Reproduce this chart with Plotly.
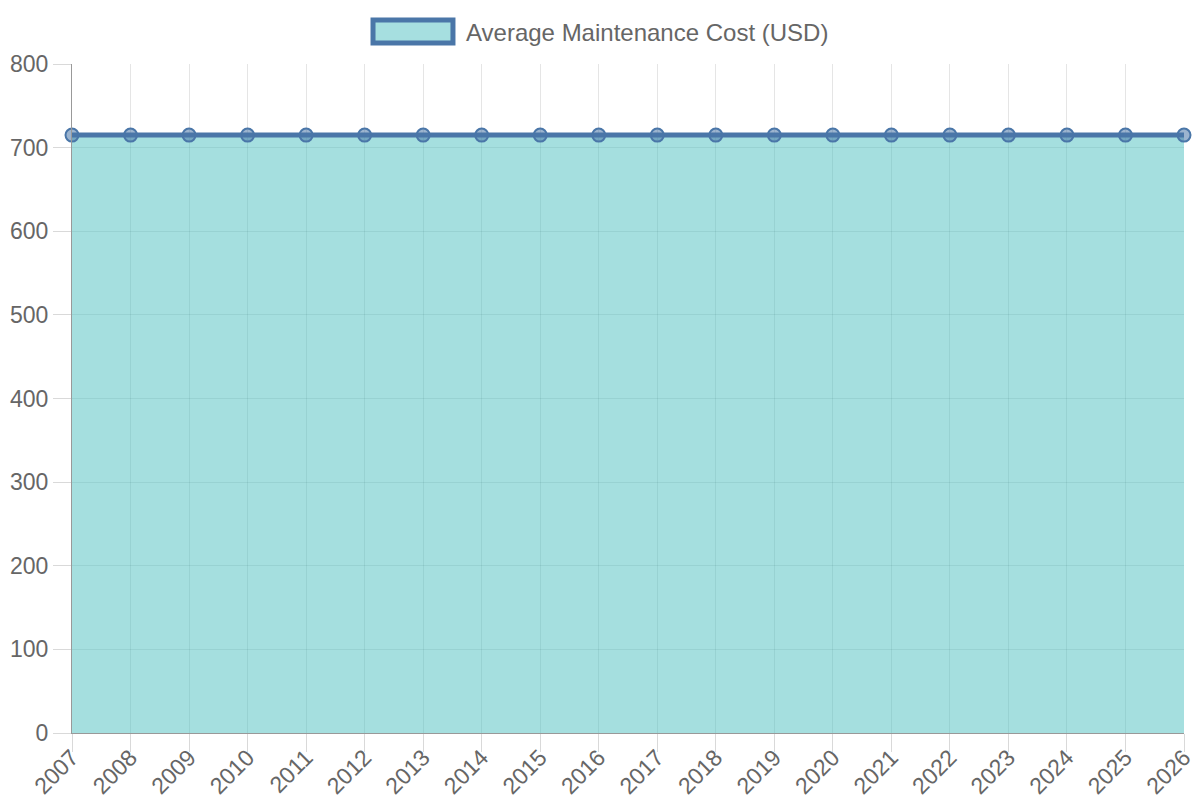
import plotly.graph_objects as go

years = [2007, 2008, 2009, 2010, 2011, 2012, 2013, 2014, 2015, 2016,
         2017, 2018, 2019, 2020, 2021, 2022, 2023, 2024, 2025, 2026]
avg_cost = [715, 715, 715, 715, 715, 715, 715, 715, 715, 715,
            715, 715, 715, 715, 715, 715, 715, 715, 715, 715]
series_name = "Average Maintenance Cost (USD)"

line_col = "rgb(74,118,168)"
fill_col = "rgba(75,192,192,0.5)"
grid_col = "rgba(0,0,0,0.1)"
family = "Liberation Sans, Arial, sans-serif"
font = dict(family=family, size=23, color="#666")
xfont = dict(family=family, size=23, color="#666")
legfont = dict(family=family, size=24, color="#666")

fig = go.Figure()
fig.add_trace(go.Scatter(
    x=years, y=avg_cost, name=series_name,
    mode="lines+markers", fill="tozeroy", fillcolor=fill_col,
    line=dict(color=line_col, width=5),
    marker=dict(size=13, color="rgba(74,118,168,0.55)",
                line=dict(color=line_col, width=2)),
    cliponaxis=False, showlegend=False,
))

# chart.js style legend box + label on top
fig.add_shape(type="rect", xref="paper", yref="paper",
              x0=0.2707, x1=0.3426, y0=1.0314, y1=1.0658,
              line=dict(color=line_col, width=5), fillcolor="rgb(166,223,224)")
fig.add_annotation(text=series_name, xref="paper", yref="paper",
                   x=0.3522, y=1.0478, xanchor="left", yanchor="middle",
                   showarrow=False, font=legfont)

fig.update_xaxes(
    range=[years[0], years[-1]], tickvals=years, ticktext=[str(y) for y in years],
    tickangle=-45, showgrid=True, gridcolor=grid_col, gridwidth=1,
    ticks="outside", ticklen=18, tickcolor="rgba(0,0,0,0.15)", ticklabelstandoff=-17,
    showline=True, linecolor="#999", linewidth=1,
    zeroline=False, tickfont=xfont, automargin=False,
)
fig.update_yaxes(
    range=[0, 800], dtick=100, showgrid=True, gridcolor=grid_col, gridwidth=1,
    ticks="outside", ticklen=18, tickcolor="rgba(0,0,0,0.15)",
    showline=True, linecolor="#999", linewidth=1,
    zeroline=False, tickfont=font, automargin=False,
)
fig.update_layout(
    width=1200, height=800,
    margin=dict(l=72, r=16, t=64, b=67),
    paper_bgcolor="white", plot_bgcolor="white",
    font=font, showlegend=False,
)

# page body has an 8px default margin, drop it so the figure sits at 0,0
fig.write_html("out.html", config={"displayModeBar": False},
               post_script="document.body.style.margin='0';")
